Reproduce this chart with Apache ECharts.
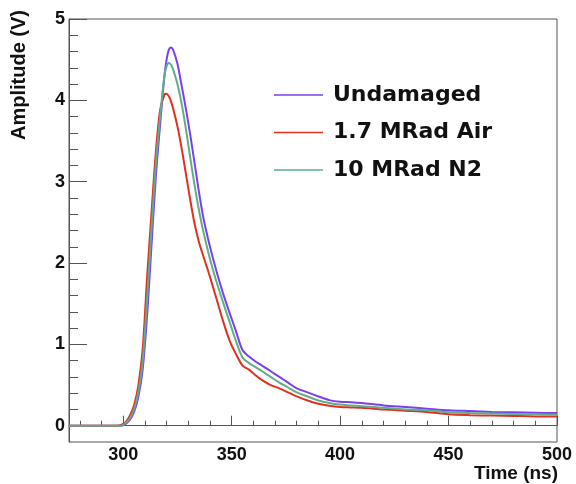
<!DOCTYPE html>
<html>
<head>
<meta charset="utf-8">
<script src="https://cdn.jsdelivr.net/npm/echarts@6/dist/echarts.min.js"></script>
<style>
html,body{margin:0;padding:0;background:#fff;}
#chart{width:576px;height:484px;}
</style>
</head>
<body>
<div id="chart"></div>
<script>
const timeNs = [275,280,285,290,295,297,299,301,303,305,307,309,311,313,315,317,319,320,321,322,323,325,327,329,331,333,335,337,340,343,346,349,352,355,358,361,364,368,372,376,380,385,390,395,400,405,410,420,430,440,450,460,470,480,490,500];
const undamaged = [0,0,0,0,0,0,0,0.02,0.07,0.17,0.36,0.7,1.35,2.2,3.05,3.7,4.3,4.5,4.62,4.65,4.62,4.45,4.17,3.88,3.56,3.21,2.86,2.55,2.2,1.9,1.63,1.39,1.16,0.93,0.85,0.79,0.74,0.67,0.6,0.53,0.46,0.41,0.36,0.315,0.295,0.29,0.28,0.25,0.23,0.21,0.19,0.18,0.17,0.165,0.16,0.155];
const air17 = [0,0,0,0,0,0,0.01,0.04,0.12,0.25,0.5,0.95,1.82,2.6,3.35,3.88,4.07,4.08,4.05,3.99,3.9,3.68,3.4,3.08,2.76,2.47,2.25,2.08,1.83,1.56,1.29,1.05,0.88,0.74,0.69,0.62,0.56,0.5,0.46,0.41,0.36,0.31,0.27,0.245,0.23,0.225,0.22,0.2,0.185,0.17,0.14,0.13,0.125,0.12,0.115,0.115];
const n2_10 = [0,0,0,0,0,0,0,0.03,0.09,0.2,0.42,0.8,1.55,2.4,3.2,3.8,4.3,4.42,4.46,4.44,4.38,4.2,3.95,3.63,3.28,2.94,2.64,2.38,2.05,1.77,1.52,1.28,1.04,0.84,0.77,0.72,0.67,0.6,0.53,0.47,0.41,0.36,0.31,0.28,0.26,0.25,0.24,0.22,0.2,0.19,0.165,0.155,0.15,0.145,0.14,0.135];
const seriesNames = ['Undamaged','1.7 MRad Air','10 MRad N2'];
const xMajorTicks = [300,350,400,450,500];
const xMinorTicks = [280,290,310,320,330,340,360,370,380,390,410,420,430,440,460,470,480,490];
const yMajorTicks = [0,1,2,3,4,5];
const yMinorTicks = [0.2,0.4,0.6,0.8,1.2,1.4,1.6,1.8,2.2,2.4,2.6,2.8,3.2,3.4,3.6,3.8,4.2,4.4,4.6,4.8];

const pairs = vals => timeNs.map((t,i) => [t, vals[i]]);
const axisColor = '#555';
const labelFont = {fontFamily:'Liberation Sans', fontWeight:'bold', fontSize:18, color:'#111'};
const lineIcon = 'path://M0,0h98v3h-98z';

const chart = echarts.init(document.getElementById('chart'), null, {renderer:'canvas'});
chart.setOption({
  animation:false,
  backgroundColor:'#fff',
  grid:{left:69,right:19,top:19,bottom:42,show:true,borderColor:axisColor,borderWidth:1,backgroundColor:'transparent'},
  xAxis:[
    {type:'value',min:275,max:500,position:'bottom',
     axisLine:{show:true,lineStyle:{color:axisColor,width:1}},
     axisTick:{show:true,inside:true,length:10,customValues:xMajorTicks,lineStyle:{color:axisColor}},
     axisLabel:Object.assign({show:true,margin:4,customValues:xMajorTicks},labelFont),
     splitLine:{show:false}},
    {type:'value',min:275,max:500,position:'bottom',
     axisLine:{show:false},
     axisTick:{show:true,inside:true,length:5,customValues:xMinorTicks,lineStyle:{color:axisColor}},
     axisLabel:{show:false},splitLine:{show:false}}
  ],
  yAxis:[
    {type:'value',min:-0.2,max:5,position:'left',
     axisLine:{show:true,lineStyle:{color:axisColor,width:1}},
     axisTick:{show:true,inside:true,length:18,customValues:yMajorTicks,lineStyle:{color:axisColor}},
     axisLabel:Object.assign({show:true,margin:4,customValues:yMajorTicks},labelFont),
     splitLine:{show:false}},
    {type:'value',min:-0.2,max:5,position:'left',
     axisLine:{show:false},
     axisTick:{show:true,inside:true,length:9,customValues:yMinorTicks,lineStyle:{color:axisColor}},
     axisLabel:{show:false},splitLine:{show:false}}
  ],
  legend:{
    orient:'vertical',left:274,top:82,padding:0,
    itemWidth:49,itemHeight:26,itemGap:11.5,
    data:seriesNames.map(n => ({name:n, icon:lineIcon})),
    textStyle:{fontFamily:'DejaVu Sans',fontWeight:'bold',fontSize:22,lineHeight:26,color:'#111',padding:[0,0,0,5]}
  },
  graphic:[
    {type:'text',x:558,y:474,style:{text:'Time (ns)',font:'bold 19px "Liberation Sans"',textAlign:'right',textVerticalAlign:'middle',fill:'#111'}},
    {type:'text',x:19,y:10,rotation:Math.PI/2,style:{text:'Amplitude (V)',font:'bold 20px "Liberation Sans"',textAlign:'right',textVerticalAlign:'middle',fill:'#111'}}
  ],
  series:[
    {name:seriesNames[0],type:'line',data:pairs(undamaged),symbol:'none',smooth:0.3,color:'#7b3ff2',lineStyle:{width:2}},
    {name:seriesNames[1],type:'line',data:pairs(air17),symbol:'none',smooth:0.3,color:'#e2301e',lineStyle:{width:2}},
    {name:seriesNames[2],type:'line',data:pairs(n2_10),symbol:'none',smooth:0.3,color:'#5fae88',lineStyle:{width:2}}
  ]
});
</script>
</body>
</html>
